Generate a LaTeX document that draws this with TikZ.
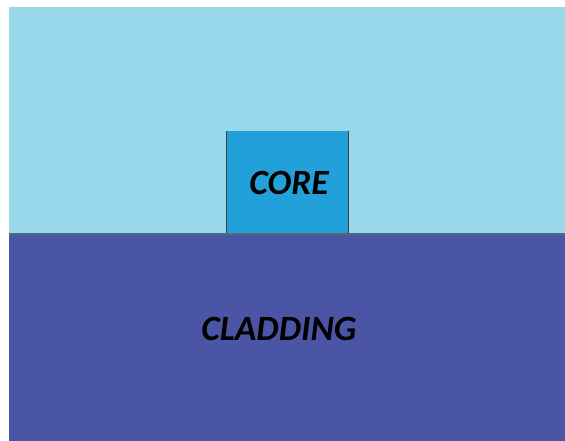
\documentclass[tikz,border=0pt]{standalone}
\usepackage{fontspec}
\setmainfont{Carlito}
\definecolor{cladtop}{HTML}{98D8EA}
\definecolor{cladbot}{HTML}{4B55A6}
\definecolor{corefill}{HTML}{22A0DA}
\definecolor{edgegray}{HTML}{4F6A78}
\tikzset{
  layerlabel/.style={font=\fontsize{35.5}{35.5}\selectfont\bfseries\itshape, text=black, inner sep=0pt},
}
\begin{document}
\begin{tikzpicture}[x=1pt,y=-1pt]
  \useasboundingbox (0,0) rectangle (565,441);
  % upper cladding and substrate cladding
  \fill[cladtop] (9,7) rectangle (565,233);
  \fill[cladbot] (9,233) rectangle (565,441);
  % core block
  \fill[corefill] (226,131) rectangle (349,233);
  \draw[black!75, line width=1.3pt] (226.5,131) -- (226.5,233);
  \draw[black!75, line width=1.3pt] (348.5,131) -- (348.5,233);
  % interface line
  \draw[edgegray, line width=2pt] (9,233.5) -- (565,233.5);
  \node[layerlabel] (core) at (289,183) {CORE};
  \node[layerlabel] (clad) at (279,329) {CLADDING};
\end{tikzpicture}
\end{document}
